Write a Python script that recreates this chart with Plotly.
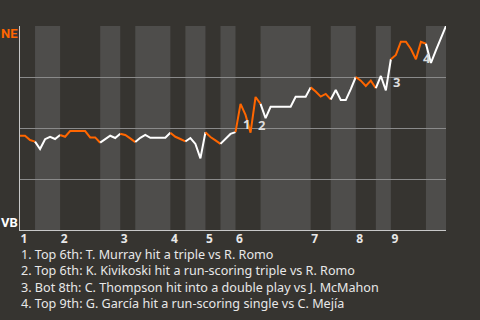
import plotly.graph_objects as go

# NE win probability after each plate appearance (index 0 = first pitch)
wp = [0.462, 0.462, 0.441, 0.433, 0.397, 0.445, 0.457, 0.446, 0.466,
      0.457, 0.485, 0.485, 0.485, 0.485, 0.454, 0.454, 0.428,
      0.445, 0.462, 0.451, 0.472,
      0.466, 0.449, 0.431,
      0.452, 0.466, 0.452, 0.452, 0.452, 0.452, 0.477,
      0.457, 0.446, 0.434,
      0.451, 0.422, 0.351, 0.479,
      0.456, 0.439, 0.422,
      0.446, 0.471, 0.480,
      0.618, 0.564, 0.477, 0.652, 0.618,
      0.548, 0.604, 0.604, 0.604, 0.604, 0.604, 0.653, 0.653, 0.653, 0.699,
      0.679, 0.654, 0.667, 0.640,
      0.686, 0.637, 0.637, 0.691, 0.750,
      0.732, 0.706, 0.732, 0.695,
      0.755, 0.684, 0.837,
      0.858, 0.923, 0.923, 0.887, 0.837, 0.922, 0.913,
      0.819, 0.882, 0.941, 1.0]

# plate appearances per half-inning (top 1, bot 1, top 2, ...)
half_counts = [3, 5, 8, 4, 3, 7, 3, 4, 3, 3, 5, 10, 4, 5, 4, 3, 7, 4]
inning_labels = ["1", "2", "3", "4", "5", "6", "7", "8", "9"]

team_top = "NE"
team_bottom = "VB"

note_events = [44, 47, 74, 80]
note_labels = ["1", "2", "3", "4"]
note_texts = [
    "1. Top 6th: T. Murray hit a triple vs R. Romo",
    "2. Top 6th: K. Kivikoski hit a run-scoring triple vs R. Romo",
    "3. Bot 8th: C. Thompson hit into a double play vs J. McMahon",
    "4. Top 9th: G. García hit a run-scoring single vs C. Mejía",
]

BG = "#363430"
BAND = "#4e4d4b"
ORANGE = "#ff6600"
WHITE = "#ffffff"
TEXT = "#e8e8e8"
FONT = "Noto Sans, Open Sans, sans-serif"
LABEL_FONT = "Roboto, Noto Sans, sans-serif"

# half-inning boundaries
bounds = [0]
for c in half_counts:
    bounds.append(bounds[-1] + c)

fig = go.Figure()
shapes = []
for h in range(len(half_counts)):
    s, e = bounds[h], bounds[h + 1]
    top = (h % 2 == 0)
    if not top:
        shapes.append(dict(type="rect", xref="x", yref="y", x0=s, x1=e, y0=0, y1=1,
                           fillcolor=BAND, line=dict(width=0), layer="below"))
    xs = list(range(s, e + 1))
    fig.add_trace(go.Scatter(
        x=xs, y=[wp[i] for i in xs], mode="lines",
        line=dict(color=ORANGE if top else WHITE, width=2),
        hoverinfo="skip", showlegend=False, cliponaxis=False))

annotations = []
yshifts = [8, 8, 8, 1]
for k, ev in enumerate(note_events):
    annotations.append(dict(
        x=ev, y=min(wp[ev - 1], wp[ev]), xref="x", yref="y",
        text=note_labels[k], showarrow=False, xanchor="left", yanchor="middle",
        yshift=yshifts[k], font=dict(family=FONT, size=13, color="#dddddd", weight="bold")))

annotations.append(dict(x=0, y=1, xref="paper", yref="paper", text=team_top,
                        showarrow=False, xanchor="right", yanchor="middle",
                        xshift=0, yshift=-7,
                        font=dict(family=LABEL_FONT, size=13, color=ORANGE, weight="bold")))
annotations.append(dict(x=0, y=0, xref="paper", yref="paper", text=team_bottom,
                        showarrow=False, xanchor="right", yanchor="middle",
                        xshift=0, yshift=8,
                        font=dict(family=LABEL_FONT, size=13, color=WHITE, weight="bold")))

plot_h = 204.0
annotations.append(dict(x=0, y=-48.5 / plot_h, xref="paper", yref="paper",
                        text="<br>".join(note_texts), align="left",
                        showarrow=False, xanchor="left", yanchor="middle",
                        xshift=-1,
                        font=dict(family=FONT, size=12.6, color=TEXT)))

tickvals = [bounds[2 * i] for i in range(len(inning_labels))]

fig.update_layout(
    width=480, height=320,
    margin=dict(l=20, r=34, t=26, b=90, pad=0),
    paper_bgcolor=BG, plot_bgcolor=BG,
    shapes=shapes, annotations=annotations,
    xaxis=dict(range=[0, bounds[-1]], tickvals=tickvals, ticktext=inning_labels,
               showgrid=False, zeroline=False, showline=True, linecolor="#c8c8c8",
               linewidth=1, ticks="", ticklabelshift=4, ticklabelstandoff=-2,
               tickfont=dict(family=FONT, size=12, color=TEXT, weight="bold"),
               fixedrange=True),
    yaxis=dict(range=[0, 1], tickvals=[0, 0.25, 0.5, 0.75, 1], showticklabels=False,
               showgrid=True, gridcolor="#8a8a8a", gridwidth=1, zeroline=False,
               showline=True, linecolor="#c8c8c8", linewidth=1, ticks="",
               fixedrange=True),
)

fig.write_html("out.html", include_plotlyjs=True, config=dict(displayModeBar=False))
